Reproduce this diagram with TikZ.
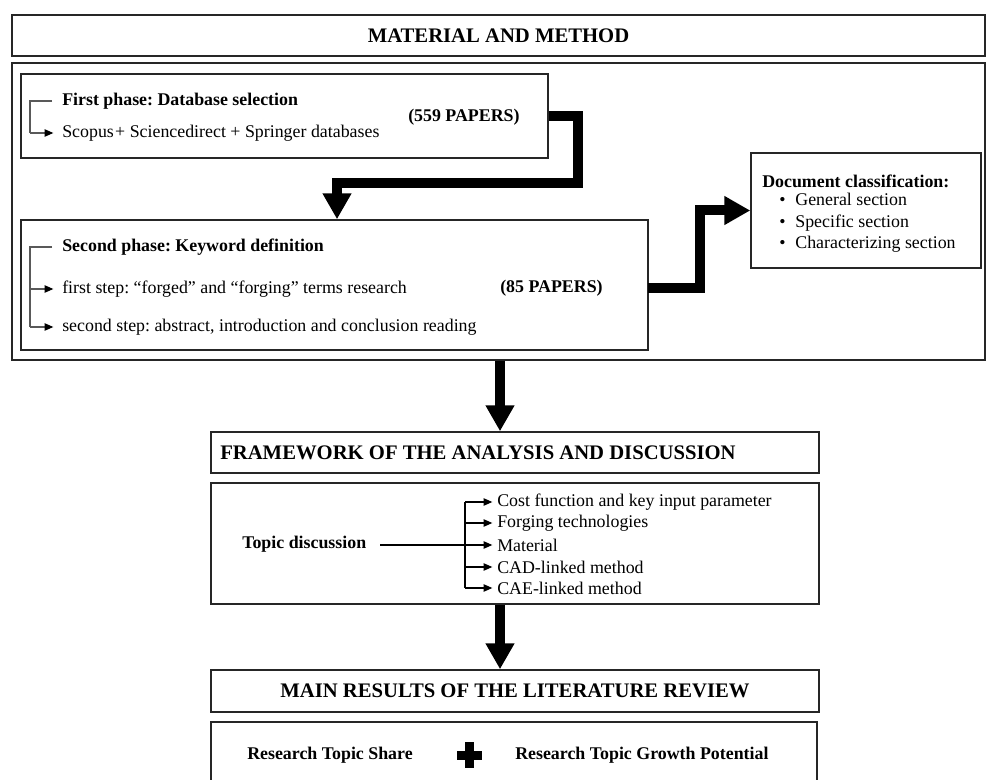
\documentclass[tikz,border=0pt]{standalone}
\usepackage{fontspec}
\setmainfont{Liberation Serif}
\usetikzlibrary{arrows.meta,fit}
\frenchspacing
\begin{document}
\begin{tikzpicture}[x=0.75pt,y=-0.75pt,
  box/.style={draw=black!85, line width=1.1pt, inner sep=0pt},
  body/.style={font=\fontsize{13.4}{16}\selectfont\frenchspacing, inner sep=0pt, anchor=west},
  bodyb/.style={font=\fontsize{13.4}{16}\selectfont\bfseries\frenchspacing, inner sep=0pt, anchor=west},
  head/.style={font=\fontsize{15.5}{18}\selectfont\bfseries, inner sep=0pt},
  thinline/.style={draw=black!65, line width=0.8pt},
  thinarrow/.style={thinline, -{Triangle[length=6.5pt,width=5.5pt,color=black]}},
  blkarrow/.style={draw=black, line width=0.8pt, -{Triangle[length=6.5pt,width=5.5pt]}},
  bigarrow/.style={line width=7.5pt, line join=miter, -{Triangle[length=19.5pt,width=20.5pt]}}]
\useasboundingbox (0,0) rectangle (987,780);
% boxes
\node[box, fit={(12,15) (985,56)}] (mm) {};
\node[head] (mmt) at (mm.center) {MATERIAL AND METHOD};
\node[box, fit={(12,63) (985,360)}] (outer) {};
\node[box, fit={(21,74) (548,158)}] (p1) {};
\node[box, fit={(21,220) (648,350)}] (p2) {};
\node[box, fit={(751,153) (981,268)}] (doc) {};
\node[box, fit={(211,432) (819,473)}] (fw) {};
\node[box, fit={(211,483) (819,604)}] (topic) {};
\node[box, fit={(211,670) (819,712)}] (mr) {};
\node[box, fit={(211,722) (817,795)}] (rt) {};
% first phase
\node[bodyb] (p1a) at (62,101) {First phase: Database selection};
\node[body] (p1b) at (62,133) {Scopus\kern1pt+ Sciencedirect + Springer databases};
\node[bodyb] (p1c) at (408,117) {(559 PAPERS)};
\coordinate (b1) at (30,133);
\draw[thinline] ([xshift=-7.5pt]p1a.west) -| (b1);
\draw[thinarrow] (b1) -- ([xshift=-6.5pt]p1b.west);
% second phase
\node[bodyb] (p2a) at (62,247) {Second phase: Keyword definition};
\node[body] (p2b) at (62,289) {first step: “forged” and “forging” terms research};
\node[body] (p2c) at (62,327) {second step: abstract, introduction and conclusion reading};
\node[bodyb] (p2d) at (500,288) {(85 PAPERS)};
\coordinate (b2) at (30,327);
\coordinate (b2m) at (30,289);
\draw[thinline] ([xshift=-7.5pt]p2a.west) -| (b2);
\draw[thinarrow] (b2) -- ([xshift=-6.5pt]p2c.west);
\draw[thinarrow] (b2m) -- ([xshift=-6.5pt]p2b.west);
% document classification
\node[bodyb] (d1) at (762,181) {Document classification:};
\node[body, anchor=base west] (d2) at (779,206) {\textbullet\hspace{0.55em}General section};
\node[body, anchor=base west] (d3) at (779,227.5) {\textbullet\hspace{0.55em}Specific section};
\node[body, anchor=base west] (d4) at (779,249) {\textbullet\hspace{0.55em}Characterizing section};
% framework
\node[head, anchor=west] (fwt) at (220,453) {FRAMEWORK OF THE ANALYSIS AND DISCUSSION};
% topic discussion
\node[bodyb] (td) at (242,544) {Topic discussion};
\node[body] (t1) at (497,502) {Cost function and key input parameter};
\node[body] (t2) at (497,523) {Forging technologies};
\node[body] (t3) at (497,545) {Material};
\node[body] (t4) at (497,567) {CAD-linked method};
\node[body] (t5) at (497,588) {CAE-linked method};
\coordinate (tv1) at (465,502);
\coordinate (tv5) at (465,588);
\coordinate (c380) at (380,0);
\draw[blkarrow] (t3.west -| c380) -- ([xshift=-3.5pt]t3.west);
\draw[draw=black, line width=0.8pt] (tv1 |- t1.west) -- (tv5 |- t5.west);
\foreach \t in {t1,t2,t4,t5}
  \draw[blkarrow] (tv1 |- \t.west) -- ([xshift=-3.5pt]\t.west);
% main results
\node[head] (mrt) at (mr.center) {MAIN RESULTS OF THE LITERATURE REVIEW};
\node[bodyb] (rs) at (247,755) {Research Topic Share};
\node[bodyb] (rg) at (515,755) {Research Topic Growth Potential};
\fill (457,750.5) rectangle (482,759.5);
\fill (465,742) rectangle (474,768);
% thick arrows
\coordinate (c578) at (578,183);
\coordinate (c337) at (337,0);
\coordinate (c700) at (700,0);
\coordinate (c500) at (500,0);
\coordinate (p2r) at (648,288);
\draw[bigarrow] (p1.east) -| (c578) -| (p2.north -| c337);
\draw[bigarrow] (p2r) -| (doc.west -| c700) -- (doc.west);
\draw[bigarrow] (outer.south -| c500) -- (fw.north -| c500);
\draw[bigarrow] (topic.south -| c500) -- (mr.north -| c500);
\end{tikzpicture}
\end{document}
